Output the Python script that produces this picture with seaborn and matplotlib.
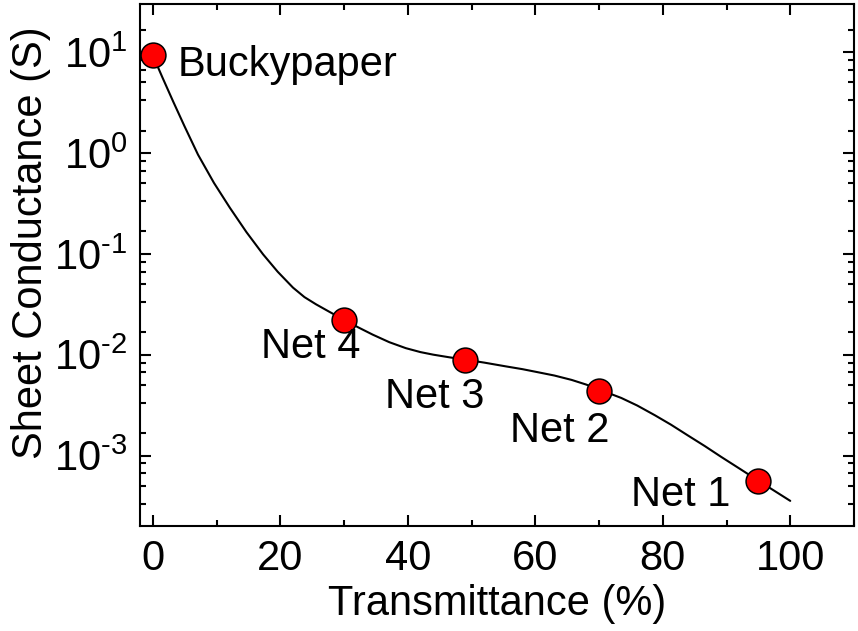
import numpy as np
import pandas as pd
import matplotlib
matplotlib.use("Agg")
import matplotlib.pyplot as plt
import matplotlib.ticker as mticker
import seaborn as sns

# ---- data ----
sample_names = ["Buckypaper", "Net 4", "Net 3", "Net 2", "Net 1"]
transmittance = [0.0, 30.0, 49.0, 70.0, 95.0]
conductance = [9.4, 0.0222, 0.0089, 0.0044, 0.000555]

curve_x = [0.0, 1.5, 3.2, 5.0, 7.1, 9.6, 12.1, 14.7, 17.3, 19.6, 22.0, 23.8,
           25.6, 27.8, 30.0, 32.2, 34.5, 37.1, 39.7, 42.0, 44.0, 46.5, 49.0,
           52.0, 55.3, 58.0, 60.5, 63.0, 65.7, 68.0, 70.0, 73.5, 76.0, 78.75,
           81.3, 83.95, 86.6, 89.2, 92.3, 95.0, 97.5, 100.0]
curve_y = [9.33, 5.64, 3.24, 1.83, 0.962, 0.505, 0.286, 0.164, 0.0989, 0.0664,
           0.0462, 0.0372, 0.0316, 0.0264, 0.0222, 0.0187, 0.0158, 0.0133,
           0.0116, 0.0106, 0.0100, 0.00942, 0.00893, 0.00834, 0.00767, 0.00718,
           0.00668, 0.00621, 0.00562, 0.00505, 0.00452, 0.00372, 0.00313,
           0.00251, 0.00202, 0.00158, 0.00124, 0.000966, 0.000724, 0.000562,
           0.000447, 0.000355]

x_ticks = [0, 20, 40, 60, 80, 100]
x_tick_labels = ["0", "20", "40", "60", "80", "100"]
y_ticks = [1e-3, 1e-2, 1e-1, 1e0, 1e1]
y_tick_labels = [r"$\mathregular{10^{\text{-}3}}$", r"$\mathregular{10^{\text{-}2}}$",
                 r"$\mathregular{10^{\text{-}1}}$", r"$\mathregular{10^{0}}$",
                 r"$\mathregular{10^{1}}$"]

# label offsets (points) relative to each marker, and alignment
label_offsets = [(18.2, -15.6), (12.0, -27.6), (13.7, -34.8), (7.7, -36.7), (-20.4, -18.0)]
label_ha = ["left", "right", "right", "right", "right"]

# ---- style ----
sns.set_theme(style="ticks")
plt.rcParams["font.family"] = ["Liberation Sans", "DejaVu Sans"]
plt.rcParams["mathtext.fontset"] = "custom"
plt.rcParams["mathtext.rm"] = "Liberation Sans"
plt.rcParams["mathtext.it"] = "Liberation Sans:italic"
plt.rcParams["mathtext.bf"] = "Liberation Sans:bold"
plt.rcParams["axes.unicode_minus"] = False
for key in ["text.color", "axes.labelcolor", "xtick.color", "ytick.color",
            "axes.edgecolor", "xtick.labelcolor", "ytick.labelcolor"]:
    plt.rcParams[key] = "black"

FS = 30

points = pd.DataFrame({"T": transmittance, "G": conductance, "name": sample_names})
curve = pd.DataFrame({"T": curve_x, "G": curve_y})

fig = plt.figure(figsize=(8.58, 6.31), dpi=100)
ax = fig.add_axes([140 / 858, 1 - 526 / 631, 714 / 858, 522 / 631])

sns.lineplot(data=curve, x="T", y="G", ax=ax, color="black", linewidth=1.5,
             sort=False, estimator=None, zorder=2)
sns.scatterplot(data=points, x="T", y="G", ax=ax, s=320, color="#ff0000",
                edgecolor="black", linewidth=1.1, zorder=3, legend=False)

ax.set_yscale("log")
ax.set_xlim(-2, 110)
ax.set_ylim(2e-4, 30)

ax.set_xticks(x_ticks)
ax.set_xticklabels(x_tick_labels)
ax.xaxis.set_minor_locator(mticker.FixedLocator([10, 30, 50, 70, 90, 110]))
ax.set_yticks(y_ticks)
ax.set_yticklabels(y_tick_labels)
minor_y = [m * 10.0 ** n for n in range(-4, 2) for m in (10 / 6, 20 / 6, 30 / 6, 40 / 6, 50 / 6)]
ax.yaxis.set_minor_locator(mticker.FixedLocator(minor_y))
ax.yaxis.set_minor_formatter(mticker.NullFormatter())

ax.tick_params(which="both", direction="in", top=True, right=True, width=1.5,
               color="black", labelcolor="black")
ax.tick_params(which="major", length=8, labelsize=FS, pad=9)
ax.tick_params(which="minor", length=4.3)
for s in ax.spines.values():
    s.set_linewidth(1.5)
    s.set_color("black")

ax.set_xlabel("Transmittance (%)", fontsize=FS, color="black")
ax.set_ylabel("Sheet Conductance (S)", fontsize=FS, color="black")
ax.xaxis.set_label_coords(0.5, -0.112)
ax.yaxis.set_label_coords(-0.125, 0.542)

for name, x, y, off, ha in zip(sample_names, transmittance, conductance,
                               label_offsets, label_ha):
    ax.annotate(name, xy=(x, y), xytext=off, textcoords="offset points",
                ha=ha, va="baseline", fontsize=FS, color="black")

fig.savefig("out.png", dpi=100)
